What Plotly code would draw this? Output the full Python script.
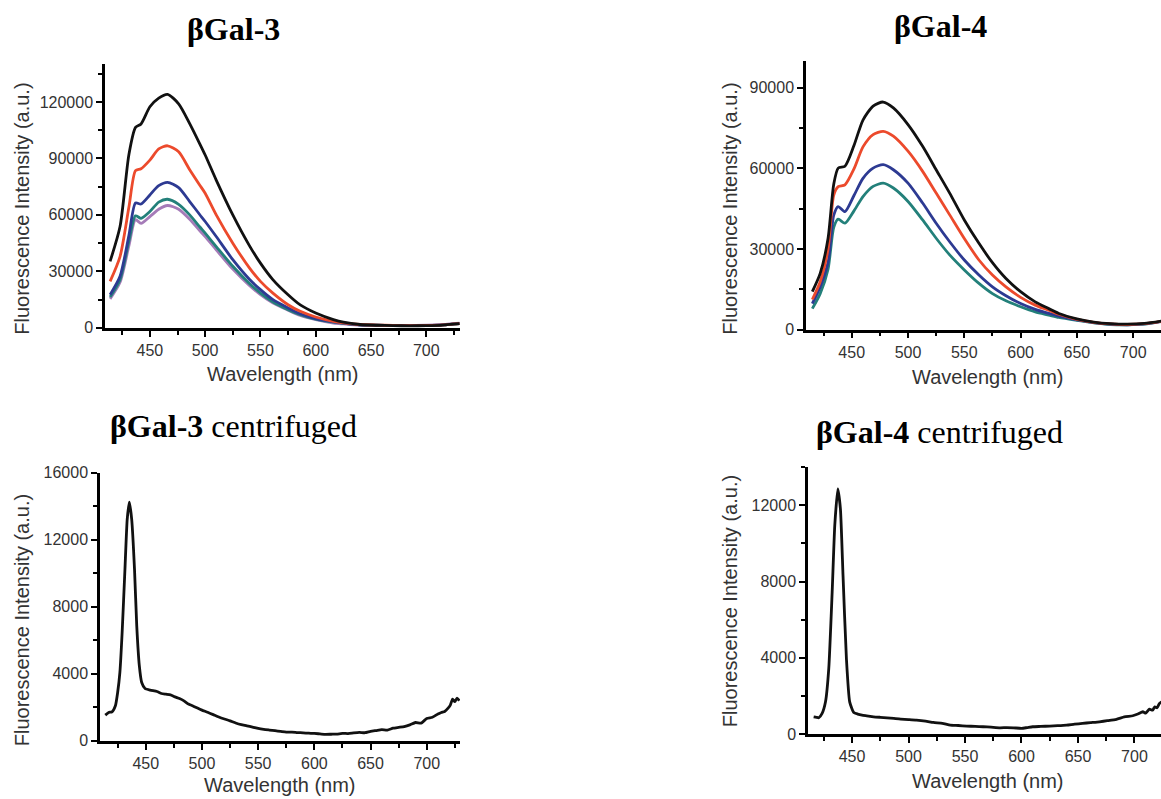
import plotly.graph_objects as go

W, H = 1161, 799

# ---------------- data: βGal-3 (top-left) ----------------
wl_g3 = [414, 423, 431, 437, 442, 450, 458, 466, 476, 486, 495, 500, 510, 525, 540, 550,
         561, 575, 586, 600, 616, 625, 640, 655, 670, 685, 700, 715, 725, 730]
g3_black = [35300, 53800, 92000, 106500, 108300, 117400, 122000, 124000, 119000, 108500, 97900,
            91800, 78500, 60000, 43700, 34400, 25800, 17600, 12200, 7900, 4400, 3000, 1800,
            1400, 1200, 1100, 1200, 1500, 2000, 2300]
g3_red = [24700, 37900, 64000, 83500, 84500, 89100, 95000, 96700, 93500, 84000, 75900, 71500,
          60000, 45000, 31900, 24700, 18600, 12300, 8800, 5800, 3500, 2700, 1800, 1500, 1300,
          1200, 1300, 1600, 2100, 2300]
g3_blue = [17650, 27400, 49000, 66300, 65800, 70600, 75500, 77300, 74500, 67100, 60200, 56500,
           48500, 36200, 25800, 20300, 15100, 10600, 7500, 4900, 3200, 2500, 1600, 1400, 1300,
           1200, 1300, 1600, 2100, 2300]
g3_teal = [16400, 25600, 46000, 59500, 58200, 61800, 66800, 68300, 65600, 60000, 53700, 50300,
           43200, 32700, 23600, 18500, 13900, 9700, 7000, 4600, 3000, 2400, 1600, 1400, 1300,
           1200, 1300, 1600, 2100, 2300]
g3_purple = [15400, 24200, 43500, 57500, 55500, 59100, 63000, 65000, 63000, 57700, 51700, 48500,
             41500, 31200, 22500, 17650, 13300, 9400, 6600, 4400, 2600, 2100, 1400, 1300, 1300,
             1300, 1400, 1800, 2300, 2500]

# ---------------- data: βGal-4 (top-right) ----------------
wl_g4 = [415, 422, 429, 434, 438, 444, 452, 460, 469, 478, 487, 500, 513, 525, 537, 550, 563,
         575, 587, 600, 613, 625, 634, 650, 665, 680, 695, 710, 725]
g4_black = [14100, 20900, 34000, 54000, 60100, 60800, 68500, 78000, 83200, 84700, 82500, 76300,
            68200, 59500, 50800, 40800, 32100, 24900, 19000, 14100, 10300, 7800, 6000, 4000,
            2800, 2200, 2000, 2300, 3200]
g4_red = [11200, 17800, 30000, 50000, 53200, 53900, 59800, 68000, 72600, 73800, 72000, 66400,
          58900, 50800, 42700, 33900, 25900, 20300, 15900, 12000, 9100, 7200, 5700, 3800, 2700,
          2100, 1900, 2200, 3100]
g4_blue = [9700, 15900, 25000, 42500, 45800, 43900, 49900, 56300, 60100, 61400, 59500, 54500,
           47100, 39600, 32700, 25900, 20300, 15900, 12600, 9700, 7500, 6000, 5000, 3600, 2600,
           2000, 1800, 2100, 3000]
g4_teal = [7800, 13400, 22500, 38000, 41100, 39600, 44200, 49500, 53300, 54500, 52700, 47700,
           40800, 34000, 27800, 22200, 17200, 13400, 10700, 8500, 6600, 5400, 4500, 3400, 2500,
           1900, 1800, 2000, 3100]

# ---------------- data: βGal-3 centrifuged (bottom-left) ----------------
wl_g3c = [414, 417, 420, 423, 425, 427, 429, 431.5, 433.5, 435.4, 437.5, 440, 442, 444.3, 446.4,
          449.4, 454, 460, 464, 468, 472, 476, 480, 484, 488, 492, 496, 500, 505, 510, 515, 520,
          525, 530, 535, 540, 545, 550, 555, 560, 565, 570, 575, 580, 585, 590, 595, 600, 605,
          610, 615, 620, 625, 630, 635, 640, 645, 650, 655, 660, 665, 670, 675, 680, 685, 690,
          695, 700, 705, 710, 713, 716, 719, 721, 723, 725, 727, 729]
g3c_int = [1530, 1690, 1730, 2090, 2880, 4080, 6460, 10240, 13220, 14250, 13220, 10240, 6860,
           4470, 3480, 3120, 3020, 2940, 2820, 2780, 2740, 2620, 2520, 2380, 2190, 2080, 1950,
           1830, 1700, 1560, 1420, 1300, 1190, 1060, 960, 895, 820, 735, 680, 640, 600, 560, 520,
           520, 490, 470, 450, 440, 410, 380, 390, 400, 440, 430, 470, 500, 480, 560, 610, 660,
           640, 750, 800, 850, 950, 1090, 1050, 1330, 1400, 1600, 1690, 1750, 1950, 2130, 2490,
           2330, 2550, 2390]

# ---------------- data: βGal-4 centrifuged (bottom-right) ----------------
wl_g4c = [416, 418.5, 420.6, 423.5, 426.5, 429.4, 432.4, 434.7, 437.4, 439.7, 442, 445, 447.9,
          451.5, 455, 458.8, 463, 469, 475, 481, 487, 493, 500, 507, 515, 522, 530, 537, 544,
          551.5, 559, 566, 573, 581, 587, 593, 600, 605, 610, 617, 625, 632, 640, 647, 654, 661,
          669, 676, 684, 691, 698.5, 703, 707.4, 710, 713.2, 716, 718, 720, 722, 724]
g4c_int = [907, 880, 855, 1080, 1690, 3440, 7450, 10940, 12860, 11810, 8320, 3960, 1690, 1130,
           1050, 995, 960, 907, 880, 855, 820, 785, 760, 733, 680, 610, 560, 470, 450, 420, 400,
           385, 360, 330, 340, 330, 300, 340, 385, 400, 420, 440, 470, 520, 560, 600, 645, 700,
           770, 900, 960, 1050, 1170, 1100, 1310, 1250, 1430, 1380, 1600, 1690]

titles = ["<b>βGal-3</b>", "<b>βGal-4</b>", "<b>βGal-3</b> centrifuged", "<b>βGal-4</b> centrifuged"]
x_title = "Wavelength (nm)"
y_title = "Fluorescence Intensity (a.u.)"

C_BLACK = "#111111"
C_RED = "#EC4A2C"
C_BLUE = "#2D3A92"
C_TEAL = "#23807A"
C_PURPLE = "#A57BB8"

fig = go.Figure()

def add(x, y, color, xa, ya, smooth):
    fig.add_trace(go.Scatter(x=x, y=y, mode="lines",
                             line=dict(color=color, width=2.8, shape="spline", smoothing=smooth),
                             xaxis=xa, yaxis=ya, showlegend=False, hoverinfo="skip"))

for ys, c in [(g3_purple, C_PURPLE), (g3_teal, C_TEAL), (g3_blue, C_BLUE), (g3_red, C_RED), (g3_black, C_BLACK)]:
    add(wl_g3, ys, c, "x", "y", 0.7)
for ys, c in [(g4_teal, C_TEAL), (g4_blue, C_BLUE), (g4_red, C_RED), (g4_black, C_BLACK)]:
    add(wl_g4, ys, c, "x2", "y2", 0.7)
add(wl_g3c, g3c_int, C_BLACK, "x3", "y3", 0.5)
add(wl_g4c, g4c_int, C_BLACK, "x4", "y4", 0.5)

# vertical pixel -> paper fraction (compensates the observed vertical fit of the page)
def fy(py):
    return 1 - (py - 8) / 783.0

tickfont = dict(family="Liberation Sans, Arial, sans-serif", size=16, color="#333333")

def xax(left, right, rng, anchor):
    return dict(domain=[left / W, right / W], range=rng, anchor=anchor,
                showline=True, linecolor="black", linewidth=2.5, showgrid=False, zeroline=False,
                ticks="outside", ticklen=6, tickwidth=2, tickcolor="black",
                tick0=450, dtick=50, tickfont=tickfont,
                minor=dict(ticks="outside", ticklen=4, tickwidth=2, tickcolor="black", dtick=25, tick0=425))

def yax(bottom, top, rng, dtick, minor, anchor):
    return dict(domain=[fy(bottom), fy(top)], range=rng, anchor=anchor,
                showline=True, linecolor="black", linewidth=2.5, showgrid=False, zeroline=False,
                ticks="outside", ticklen=6, tickwidth=2, tickcolor="black",
                tick0=0, dtick=dtick, tickfont=tickfont, tickformat="d",
                minor=dict(ticks="outside", ticklen=4, tickwidth=2, tickcolor="black", dtick=minor, tick0=0))

layout = dict(
    width=W, height=H, margin=dict(l=0, r=0, t=0, b=0),
    paper_bgcolor="white", plot_bgcolor="white",
    xaxis=xax(105, 460, [409.4, 730.5], "y"),
    yaxis=yax(328.3, 64.3, [0, 140000], 30000, 15000, "x"),
    xaxis2=xax(806, 1161, [409.4, 724.7], "y2"),
    yaxis2=yax(330, 61, [0, 100000], 30000, 15000, "x2"),
    xaxis3=xax(100, 460, [409.3, 729.6], "y3"),
    yaxis3=yax(741.7, 473.3, [0, 16000], 4000, 2000, "x3"),
    xaxis4=xax(808, 1161, [411.0, 723.5], "y4"),
    yaxis4=yax(735, 467.7, [0, 14000], 4000, 2000, "x4"),
)
fig.update_layout(**layout)

ann = []
title_pos = [(233, 29), (940, 26), (233, 427), (939, 433)]
for t, (px, py) in zip(titles, title_pos):
    ann.append(dict(text=t, x=px / W, y=fy(py), xref="paper", yref="paper",
                    showarrow=False, xanchor="center", yanchor="middle",
                    font=dict(family="Liberation Serif, Times New Roman, serif", size=32, color="black")))
axfont = dict(family="Liberation Sans, Arial, sans-serif", size=20, color="#333333")
for px, py in [(283, 374), (988, 377), (280, 786), (988, 782)]:
    ann.append(dict(text=x_title, x=px / W, y=fy(py), xref="paper", yref="paper",
                    showarrow=False, xanchor="center", yanchor="middle", font=axfont))
for px, py in [(22, 209), (730, 209), (22, 621), (730, 602)]:
    ann.append(dict(text=y_title, x=px / W, y=fy(py), xref="paper", yref="paper",
                    showarrow=False, xanchor="center", yanchor="middle", textangle=-90, font=axfont))
fig.update_layout(annotations=ann)

fig.write_html("out.html")
